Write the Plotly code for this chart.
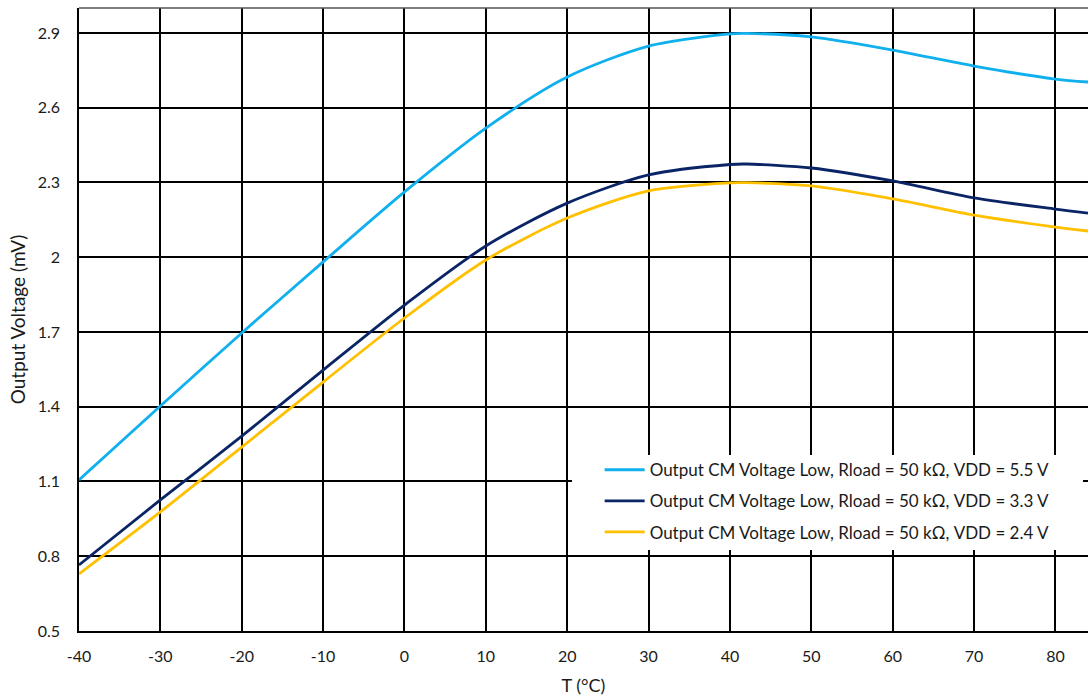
import plotly.graph_objects as go

temps = [-40, -30, -20, -10, 0, 10, 20, 30, 40, 42, 50, 60, 70, 80, 84]
v_55 = [1.106, 1.403, 1.696, 1.981, 2.262, 2.518, 2.723, 2.847, 2.896, 2.898, 2.884, 2.831, 2.767, 2.715, 2.703]
v_33 = [0.765, 1.026, 1.282, 1.547, 1.808, 2.045, 2.217, 2.330, 2.372, 2.374, 2.358, 2.306, 2.238, 2.193, 2.177]
v_24 = [0.729, 0.978, 1.238, 1.499, 1.756, 1.989, 2.157, 2.266, 2.298, 2.299, 2.286, 2.234, 2.169, 2.121, 2.105]

names = [
    "Output CM Voltage Low, Rload = 50 kΩ, VDD = 5.5 V",
    "Output CM Voltage Low, Rload = 50 kΩ, VDD = 3.3 V",
    "Output CM Voltage Low, Rload = 50 kΩ, VDD = 2.4 V",
]
colors = ["#10b0ee", "#0a2466", "#ffc000"]

x_ticks = list(range(-40, 81, 10))
x_tick_text = [str(v) for v in x_ticks]
y_ticks = [0.5, 0.8, 1.1, 1.4, 1.7, 2.0, 2.3, 2.6, 2.9]
y_tick_text = ["0.5", "0.8", "1.1", "1.4", "1.7", "2", "2.3", "2.6", "2.9"]

fig = go.Figure()
for i, (ys, nm, c) in enumerate(zip([v_55, v_33, v_24], names, colors)):
    fig.add_trace(go.Scatter(x=temps, y=ys, name=nm, mode="lines", legendgroup=f"g{i}",
                             line=dict(color=c, width=2.8, shape="spline", smoothing=0.8)))

font = "Lato, Carlito, Calibri, sans-serif"
fig.update_layout(
    width=1088, height=698,
    margin=dict(l=79, r=0, t=8, b=67),
    plot_bgcolor="white", paper_bgcolor="white",
    font=dict(family=font, size=16, color="#1a1a1a"),
    showlegend=True,
    legend=dict(x=0.516, y=0.287, xanchor="left", yanchor="top",
                bgcolor="rgba(255,255,255,0)", font=dict(size=17, family=font, color="#1a1a1a"),
                tracegroupgap=6, itemwidth=40),
    xaxis=dict(range=[-40, 84], tickvals=x_ticks, ticktext=x_tick_text, showgrid=True,
               gridcolor="black", gridwidth=1.5, zeroline=False, showline=True,
               linecolor="black", linewidth=1.5, ticks="", ticklabelstandoff=10,
               title=dict(text="T (°C)", font=dict(size=18), standoff=15)),
    yaxis=dict(range=[0.5, 3.0], tickvals=y_ticks, ticktext=y_tick_text, showgrid=True,
               gridcolor="black", gridwidth=1.5, zeroline=False, showline=True,
               linecolor="black", linewidth=1.5, ticks="", ticklabelstandoff=14,
               title=dict(text="Output Voltage (mV)", font=dict(size=19), standoff=7)),
)
fig.add_shape(type="line", xref="paper", yref="paper", x0=0, x1=1, y0=1, y1=1,
              line=dict(color="#555555", width=1.5))
fig.add_shape(type="rect", xref="paper", yref="paper",
              x0=(572 - 79) / 1009, x1=(1083 - 79) / 1009,
              y0=(631 - 550) / 623, y1=(631 - 455) / 623,
              fillcolor="white", line=dict(width=0), layer="above")
fig.write_html("out.html", config={"displayModeBar": False},
               post_script="document.body.style.margin='0';")
